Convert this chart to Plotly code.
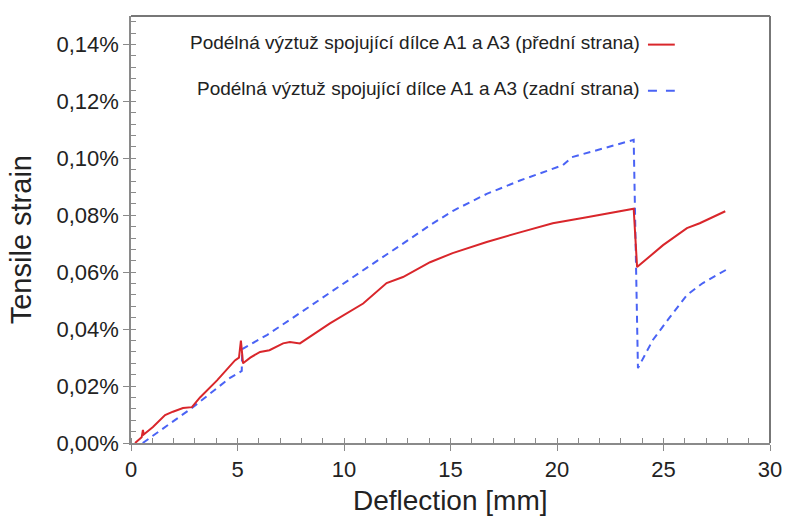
import plotly.graph_objects as go

# Front side of the longitudinal reinforcement (deflection in mm, strain in %)
front_x = [0.19, 0.33, 0.50, 0.56, 0.60, 1.03, 1.60, 1.97, 2.44, 2.86, 3.24, 4.04, 4.88,
           5.07, 5.16, 5.26, 5.60, 6.06, 6.50, 7.14, 7.46, 7.93, 9.34, 10.90, 11.83, 12.00,
           12.77, 14.04, 15.10, 16.70, 18.26, 19.80, 21.40, 23.50, 23.60, 23.76, 24.98,
           26.10, 26.70, 27.90]
front_y = [0.0, 0.001, 0.002, 0.0046, 0.003, 0.0056, 0.0098, 0.011, 0.0123, 0.0126, 0.016,
           0.022, 0.029, 0.030, 0.036, 0.028, 0.030, 0.032, 0.0326, 0.035, 0.0355, 0.035,
           0.042, 0.049, 0.0548, 0.0562, 0.0583, 0.0635, 0.0667, 0.0706, 0.074, 0.0772,
           0.0793, 0.0821, 0.0823, 0.0618, 0.0695, 0.0755, 0.0772, 0.0814]

# Back side of the longitudinal reinforcement
back_x = [0.55, 2.86, 4.65, 5.20, 5.22, 6.40, 7.90, 9.50, 11.10, 12.60, 14.04, 15.10,
          16.70, 18.26, 20.28, 20.70, 22.16, 23.50, 23.60, 23.80, 24.50, 25.30, 26.10,
          26.85, 27.98]
back_y = [0.0, 0.0123, 0.0229, 0.0253, 0.033, 0.038, 0.0455, 0.0537, 0.0617, 0.0692,
          0.0765, 0.0815, 0.0875, 0.0922, 0.0976, 0.1004, 0.1035, 0.1063, 0.1065, 0.0263,
          0.0362, 0.0442, 0.052, 0.0562, 0.061]

front_name = "Podélná výztuž spojující dílce A1 a A3 (přední strana)"
back_name = "Podélná výztuž spojující dílce A1 a A3 (zadní strana)"
x_title = "Deflection [mm]"
y_title = "Tensile strain"

RED = "#d9262b"
BLUE = "#4a63f5"
AXIS = "#8a8a8a"
TEXT = "#222222"

fig = go.Figure()
fig.add_trace(go.Scatter(x=back_x, y=back_y, mode="lines", name=back_name,
                         line=dict(color=BLUE, width=2, dash="7px,5px")))
fig.add_trace(go.Scatter(x=front_x, y=front_y, mode="lines", name=front_name,
                         line=dict(color=RED, width=2)))

# Legend drawn as text with the line sample on its right
legend_font = dict(family="Liberation Sans, Arial", size=19, color=TEXT)
for name, ypos, color, dash in [(front_name, 0.939, RED, "solid"),
                                (back_name, 0.831, BLUE, "dash")]:
    fig.add_annotation(x=0.800, y=ypos, xref="paper", yref="paper", text=name,
                       showarrow=False, xanchor="right", yanchor="middle", font=legend_font)
    fig.add_shape(type="line", xref="paper", yref="paper", x0=0.809, x1=0.851,
                  y0=ypos - 0.006, y1=ypos - 0.006,
                  line=dict(color=color, width=2, dash=dash))

tick_font = dict(family="Liberation Sans, Arial", size=22, color=TEXT)
title_font = dict(family="Liberation Sans, Arial", size=28, color=TEXT)

# Axis titles placed as annotations so the plotting area keeps its size
fig.add_annotation(x=0.5, y=-0.135, xref="paper", yref="paper", text=x_title,
                   showarrow=False, xanchor="center", yanchor="middle", font=title_font)
fig.add_annotation(x=-0.172, y=0.475, xref="paper", yref="paper", text=y_title,
                   showarrow=False, xanchor="center", yanchor="middle", textangle=-90,
                   font=dict(family="Liberation Sans, Arial", size=29, color=TEXT))

fig.update_xaxes(range=[0, 30], dtick=5, tick0=0, showline=True, linecolor=AXIS,
                 linewidth=1.5, ticks="outside", ticklen=6, tickcolor=AXIS,
                 minor=dict(dtick=1, ticks="inside", ticklen=5, tickcolor=AXIS),
                 showgrid=False, zeroline=False, tickfont=tick_font, automargin=False)
fig.update_yaxes(range=[0, 0.15], dtick=0.02, tick0=0, tickformat=".2f", ticksuffix="%",
                 showline=True, linecolor=AXIS, linewidth=1.5, ticks="outside", ticklen=6,
                 tickcolor=AXIS,
                 minor=dict(dtick=0.004, ticks="inside", ticklen=5, tickcolor=AXIS),
                 showgrid=False, zeroline=False, tickfont=tick_font, automargin=False)

# Gray frame on the top and right edges of the plotting area
fig.add_shape(type="line", xref="paper", yref="paper", x0=0, x1=1, y0=1, y1=1,
              line=dict(color="#777777", width=2))
fig.add_shape(type="line", xref="paper", yref="paper", x0=1, x1=1, y0=0, y1=1,
              line=dict(color="#777777", width=2))

fig.update_layout(width=788, height=519, margin=dict(l=131, r=18, t=16, b=76),
                  plot_bgcolor="white", paper_bgcolor="white", showlegend=False,
                  separators=",.")

fig.write_html("out.html")
